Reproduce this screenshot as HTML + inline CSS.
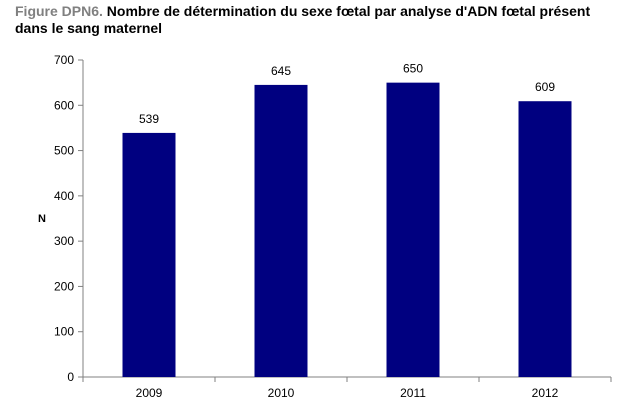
<!DOCTYPE html>
<html><head><meta charset="utf-8"><style>
body{margin:0;background:#fff;width:643px;height:417px;overflow:hidden;font-family:"Liberation Sans",Arial,sans-serif}
#title{position:absolute;left:15px;top:3px;font-size:14px;font-weight:bold;line-height:17px;color:#000}
#title span{color:#808080}
svg{position:absolute;left:0;top:0}
</style></head><body>
<div id="title"><span>Figure DPN6.</span> Nombre de détermination du sexe fœtal par analyse d'ADN fœtal présent<br>dans le sang maternel</div>
<svg id="chart" width="643" height="417"></svg>
<script>
const categories=["2009","2010","2011","2012"];
const values=[539,645,650,609];
const yTicks=[0,100,200,300,400,500,600,700];
const NS="http://www.w3.org/2000/svg";
const svg=document.getElementById('chart');
const x0=83,x1=611,y0=377,y1=60,yMax=700;
const band=(x1-x0)/categories.length;
const y=v=>y0-(v/yMax)*(y0-y1);
function mk(t,a,txt){const e=document.createElementNS(NS,t);for(const k in a)e.setAttribute(k,a[k]);if(txt!==undefined)e.textContent=txt;svg.appendChild(e);return e;}
let e;
e=mk('line',{x1:x0,y1:y1,x2:x0,y2:y0,stroke:'#808080','stroke-width':1});


e=mk('line',{x1:x0,y1:y0,x2:x1,y2:y0,stroke:'#808080','stroke-width':1});


yTicks.forEach(t=>{
 e=mk('line',{x1:x0-5,y1:y(t),x2:x0,y2:y(t),stroke:'#808080'});
 
 
 e=mk('text',{x:x0-9,y:y(t)+4,'text-anchor':'end','font-size':12,fill:'#000'},t);
 
 
});
for(let i=0;i<=categories.length;i++){
 e=mk('line',{x1:x0+i*band,y1:y0,x2:x0+i*band,y2:y0+5,stroke:'#808080'});
 
 
}
categories.forEach((c,i)=>{
 const cx=x0+band*(i+0.5),w=53;
 e=mk('rect',{x:cx-w/2,y:y(values[i]),width:w,height:y0-y(values[i]),fill:'#000080'});
 
 
 e=mk('text',{x:cx,y:y(values[i])-10,'text-anchor':'middle','font-size':12,fill:'#000'},values[i]);
 
 
 e=mk('text',{x:cx,y:y0+20,'text-anchor':'middle','font-size':12,fill:'#000'},c);
 
 
});
e=mk('text',{x:42,y:222,'text-anchor':'middle','font-size':11,'font-weight':'bold',fill:'#000'},'N');


</script>
</body></html>
